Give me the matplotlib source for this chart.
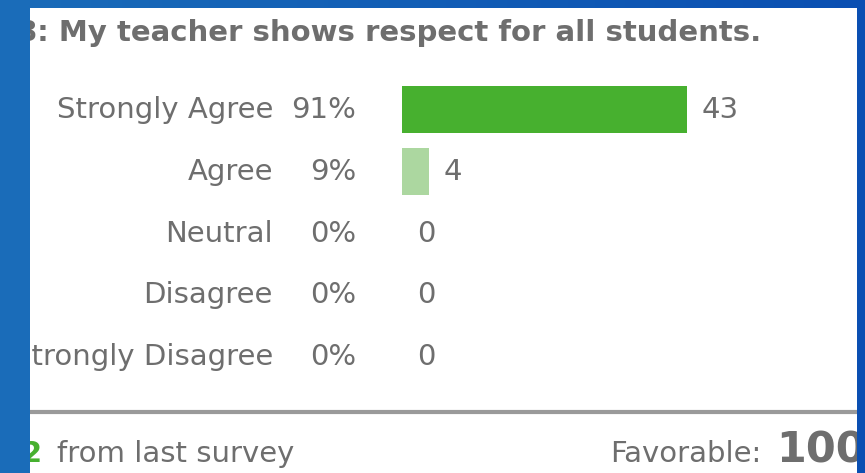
import numpy as np
import matplotlib
matplotlib.use("Agg")
from matplotlib import pyplot as plt
from matplotlib.colors import LinearSegmentedColormap
from matplotlib.patches import Rectangle

plt.rcParams['font.family'] = ['DejaVu Sans']

question = "8: My teacher shows respect for all students."
responses = ["Strongly Agree", "Agree", "Neutral", "Disagree", "Strongly Disagree"]
counts = [43, 4, 0, 0, 0]
percents = ["91%", "9%", "0%", "0%", "0%"]
bar_colors = ["#47b02f", "#acd7a0", "#47b02f", "#47b02f", "#47b02f"]
change = "2"
favorable = "100%"

W, H = 865, 473
fig = plt.figure(figsize=(W / 100, H / 100), dpi=100)

# blue backdrop with a slight left-to-right shade
bg = fig.add_axes([0, 0, 1, 1])
shade = LinearSegmentedColormap.from_list("shade", ["#1a6cb9", "#0a4fb2"])
bg.imshow(np.linspace(0, 1, 256)[None, :], cmap=shade, aspect="auto",
          extent=[0, W, H, 0])
bg.set_xlim(0, W)
bg.set_ylim(H, 0)
bg.axis("off")

# white card
card_l, card_r, card_t = 30, 857, 8
bg.add_patch(Rectangle((card_l, card_t), card_r - card_l, H - card_t,
                       facecolor="white", edgecolor="none", zorder=2))

gray = "#6e6e6e"
fs = 21


def put(x, y, s, **kw):
    return bg.text(x, y, s, zorder=5, **kw)


put(17, 41, question, fontsize=21, fontweight="bold", color=gray,
    ha="left", va="baseline")

# row labels and percentages
row_top, row_h = 79, 61.8
for i, (lab, pct) in enumerate(zip(responses, percents)):
    yc = row_top + row_h * (i + 0.5)
    put(273, yc, lab, fontsize=fs, color=gray, ha="right", va="center")
    put(356, yc, pct, fontsize=fs, color=gray, ha="right", va="center")

# divider and footer
bg.plot([card_l, card_r], [412, 412], color="#9a9a9a", lw=3, zorder=4,
        solid_capstyle="butt")
put(22, 462, change, fontsize=fs, fontweight="bold", color="#47b02f",
    ha="left", va="baseline")
put(57, 462, "from last survey", fontsize=fs, color=gray,
    ha="left", va="baseline")
put(610, 462, "Favorable:", fontsize=fs, color=gray, ha="left", va="baseline")
put(776, 462, favorable, fontsize=31, fontweight="bold", color=gray,
    ha="left", va="baseline")

# blue edges drawn over the card so overflowing text is cut off
bg.add_patch(Rectangle((0, 0), card_l, H, facecolor=shade(card_l / 2 / W),
                       edgecolor="none", zorder=8))
bg.add_patch(Rectangle((card_r, 0), W - card_r, H,
                       facecolor=shade((card_r + W) / 2 / W),
                       edgecolor="none", zorder=8))

# bars
ax_l, ax_w = 402, 440
ax = fig.add_axes([ax_l / W, (H - (row_top + 5 * row_h)) / H,
                   ax_w / W, 5 * row_h / H])
ax.set_zorder(3)
ax.patch.set_visible(False)
ypos = np.arange(len(responses))
ax.barh(ypos, counts, height=0.76, color=bar_colors)
ax.set_xlim(0, max(counts) * ax_w / 285)
ax.set_ylim(len(responses) - 0.5, -0.5)
ax.axis("off")
for y, c in zip(ypos, counts):
    ax.annotate(str(c), (c, y), xytext=(15, 0), textcoords="offset pixels",
                fontsize=fs, color=gray, ha="left", va="center")

fig.savefig("out.png", dpi=100)
